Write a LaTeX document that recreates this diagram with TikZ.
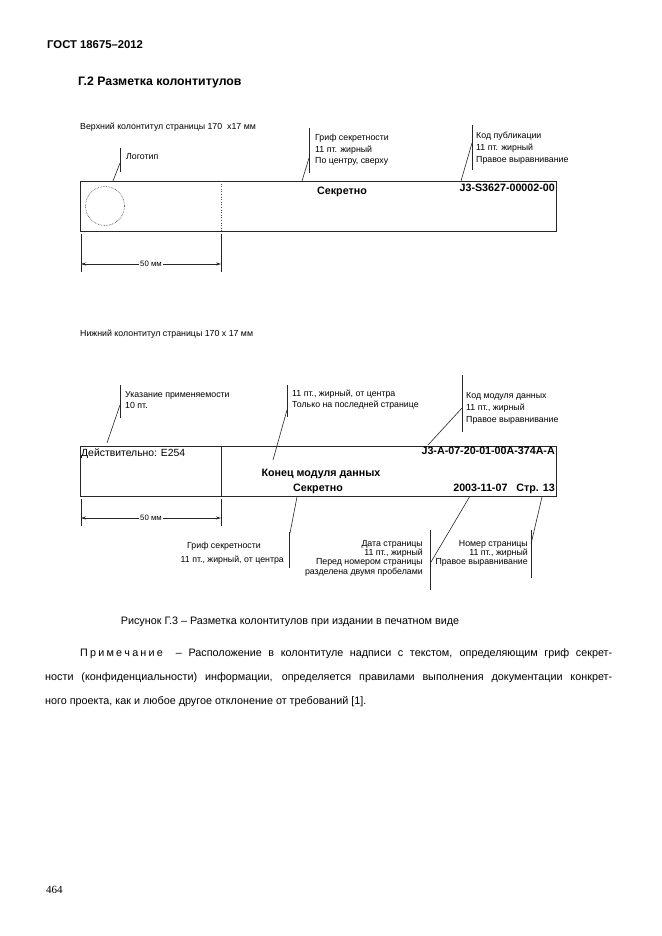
\documentclass[tikz,border=0pt]{standalone}
\usepackage{fontspec}
\setmainfont{Liberation Sans}
\newfontfamily\serifpg{Liberation Serif}
\usetikzlibrary{arrows.meta}
\tikzset{
  lbl/.style={font=\fontsize{8.8}{9}\selectfont, inner sep=0, anchor=base west},
  lblr/.style={lbl, anchor=base east},
  bld/.style={font=\fontsize{10.7}{12}\selectfont\bfseries, inner sep=0},
  body/.style={font=\fontsize{10.8}{13}\selectfont, inner sep=0, anchor=base west},
  ttl/.style={font=\fontsize{11.7}{14}\selectfont\bfseries, inner sep=0, anchor=base west},
  ln/.style={draw=black!85, line width=0.8pt},
  lead/.style={draw=black!85, line width=0.6pt},
  dimarrow/.style={draw=black!85, line width=0.6pt, {Stealth[length=5pt,width=3pt]}-{Stealth[length=5pt,width=3pt]}},
  box/.style={draw=black!85, line width=0.9pt, rectangle, inner sep=0, anchor=north west}
}
\begin{document}
\begin{tikzpicture}[x=1pt,y=-1pt]
\useasboundingbox (0,0) rectangle (661,936);
\fill[white] (0,0) rectangle (661,936);

% page header
\node[ttl, font=\fontsize{11.3}{14}\selectfont\bfseries] (gost) at (47,49) {ГОСТ 18675–2012};
\node[ttl, font=\fontsize{12.3}{14}\selectfont\bfseries] (sect) at (78,86) {Г.2 Разметка колонтитулов};

% ===== top header =====
\node[lbl] (toptitle) at (80,130) {Верхний колонтитул страницы 170 \ х17 мм};
\node[box, minimum width=476pt, minimum height=50pt] (hdr) at (80,181) {};
\coordinate (hdrdivT) at (221,181);
\coordinate (hdrdivB) at (221,231);
\draw[draw=black!70, line width=0.6pt, dotted] (hdrdivT) -- (hdrdivB);
\node[circle, draw=black!80, line width=0.6pt, densely dotted, minimum size=39pt, inner sep=0] (logo) at (105,206) {};

% logo leader
\node[lbl] (logolbl) at (126,160) {Логотип};
\coordinate (lgT) at (120,148); \coordinate (lgB) at (120,172);
\coordinate (lgM) at (120,163); \coordinate (lgE) at (113,181);
\draw[lead] (lgT) -- (lgB);
\draw[lead] (lgM) -- (lgE);

% secret top
\node[bld, anchor=base west] (sec1) at (317,194) {Секретно};
\node[lbl] (g1a) at (315,141) {Гриф секретности};
\node[lbl] (g1b) at (315,152.5) {11 пт. жирный};
\node[lbl] (g1c) at (315,164) {По центру, сверху};
\coordinate (s1T) at (309,128); \coordinate (s1B) at (309,173);
\coordinate (s1M) at (309,158); \coordinate (s1E) at (302,181);
\draw[lead] (s1T) -- (s1B);
\draw[lead] (s1M) -- (s1E);

% publication code
\node[bld, anchor=base east] (pub) at (555,191) {J3-S3627-00002-00};
\node[lbl] (p1a) at (476,139) {Код публикации};
\node[lbl] (p1b) at (476,151) {11 пт. жирный};
\node[lbl] (p1c) at (476,163) {Правое выравнивание};
\coordinate (pT) at (472,125); \coordinate (pB) at (472,170);
\coordinate (pM) at (472,143); \coordinate (pE) at (461,181);
\draw[lead] (pT) -- (pB);
\draw[lead] (pM) -- (pE);

% dimension top
\coordinate (d1aT) at (81,234); \coordinate (d1aB) at (81,272);
\coordinate (d1bT) at (221,234); \coordinate (d1bB) at (221,272);
\coordinate (d1aM) at (81,264); \coordinate (d1bM) at (221,264);
\draw[lead] (d1aT) -- (d1aB);
\draw[lead] (d1bT) -- (d1bB);
\draw[dimarrow] (d1aM) -- node[fill=white, inner sep=1pt, font=\fontsize{7.8}{9}\selectfont] (dim1) {50 мм} (d1bM);

% ===== bottom footer =====
\node[lbl] (bottitle) at (80,336) {Нижний колонтитул страницы 170 х 17 мм};
\node[box, minimum width=476pt, minimum height=50pt] (ftr) at (80,446) {};
\coordinate (ftrdivT) at (221,446);
\coordinate (ftrdivB) at (221,496);
\draw[ln] (ftrdivT) -- (ftrdivB);

\node[font=\fontsize{10.4}{12}\selectfont, inner sep=0, anchor=base west] (valid) at (81,456) {Действительно: Е254};
\node[bld, anchor=base east] (dmc) at (555,454) {J3-A-07-20-01-00A-374A-A};
\node[bld, anchor=base] (endmod) at (321,476) {Конец модуля данных};
\node[bld, anchor=base] (sec2) at (318,491) {Секретно};
\node[bld, anchor=base east] (datepg) at (555,491) {2003-11-07\hspace{9pt}Стр. 13};

% applicability leader
\node[lbl] (a1) at (125,397) {Указание применяемости};
\node[lbl] (a2) at (125,408) {10 пт.};
\coordinate (aT) at (120,385); \coordinate (aB) at (120,418);
\coordinate (aM) at (120,405); \coordinate (aE) at (107,443);
\draw[lead] (aT) -- (aB);
\draw[lead] (aM) -- (aE);

% end of module leader
\node[lbl] (c1) at (292,396.5) {11 пт., жирный, от центра};
\node[lbl] (c2) at (292,407) {Только на последней странице};
\coordinate (cT) at (287,385); \coordinate (cB) at (287,417);
\coordinate (cM) at (287,410); \coordinate (cE) at (273,460);
\draw[lead] (cT) -- (cB);
\draw[lead] (cM) -- (cE);

% data module code leader
\node[lbl] (m1) at (466,398) {Код модуля данных};
\node[lbl] (m2) at (466,410) {11 пт., жирный};
\node[lbl] (m3) at (466,422) {Правое выравнивание};
\coordinate (mT) at (462,375); \coordinate (mB) at (462,432);
\coordinate (mM) at (462,408); \coordinate (mE) at (428,445);
\draw[lead] (mT) -- (mB);
\draw[lead] (mM) -- (mE);

% dimension bottom
\coordinate (d2aT) at (81,499); \coordinate (d2aB) at (81,526);
\coordinate (d2bT) at (221,499); \coordinate (d2bB) at (221,526);
\coordinate (d2aM) at (81,518); \coordinate (d2bM) at (221,518);
\draw[lead] (d2aT) -- (d2aB);
\draw[lead] (d2bT) -- (d2bB);
\draw[dimarrow] (d2aM) -- node[fill=white, inner sep=1pt, font=\fontsize{7.8}{9}\selectfont] (dim2) {50 мм} (d2bM);

% secret bottom leader
\node[lbl] (b1) at (187,548) {Гриф секретности};
\node[lblr] (b2) at (284,562) {11 пт., жирный, от центра};
\coordinate (bS) at (297,497); \coordinate (bE) at (290,533);
\coordinate (bT) at (289,532); \coordinate (bB) at (289,568);
\draw[lead] (bS) -- (bE);
\draw[lead] (bT) -- (bB);

% date leader
\node[lblr] (e1) at (423,546) {Дата страницы};
\node[lblr] (e2) at (423,555) {11 пт., жирный};
\node[lblr] (e3) at (423,564) {Перед номером страницы};
\node[lblr] (e4) at (423,574) {разделена двумя пробелами};
\coordinate (eS) at (470,496); \coordinate (eE) at (431,562);
\coordinate (eT) at (430,530); \coordinate (eB) at (430,590);
\draw[lead] (eS) -- (eE);
\draw[lead] (eT) -- (eB);

% page number leader
\node[lblr] (f1) at (528,546) {Номер страницы};
\node[lblr] (f2) at (528,555) {11 пт., жирный};
\node[lblr] (f3) at (528,564) {Правое выравнивание};
\coordinate (fS) at (542,497); \coordinate (fE) at (531,544);
\coordinate (fT) at (531,530); \coordinate (fB) at (531,578);
\draw[lead] (fS) -- (fE);
\draw[lead] (fT) -- (fB);

% caption & note
\node[font=\fontsize{10.8}{13}\selectfont, inner sep=0, anchor=base] (cap) at (290,624) {Рисунок Г.3 – Разметка колонтитулов при издании в печатном виде};
\node[body] (n1) at (80,656) {\makebox[532pt][s]{П\kern2.2ptр\kern2.2ptи\kern2.2ptм\kern2.2ptе\kern2.2ptч\kern2.2ptа\kern2.2ptн\kern2.2ptи\kern2.2ptе \ – Расположение в колонтитуле надписи с текстом, определяющим гриф секрет-}};
\node[body] (n2) at (45,680) {\makebox[567pt][s]{ности (конфиденциальности) информации, определяется правилами выполнения документации конкрет-}};
\node[body] (n3) at (45,704) {ного проекта, как и любое другое отклонение от требований [1].};

\node[font=\fontsize{11}{13}\selectfont\serifpg, inner sep=0, anchor=base west] (pgno) at (46,893) {464};
\end{tikzpicture}
\end{document}
